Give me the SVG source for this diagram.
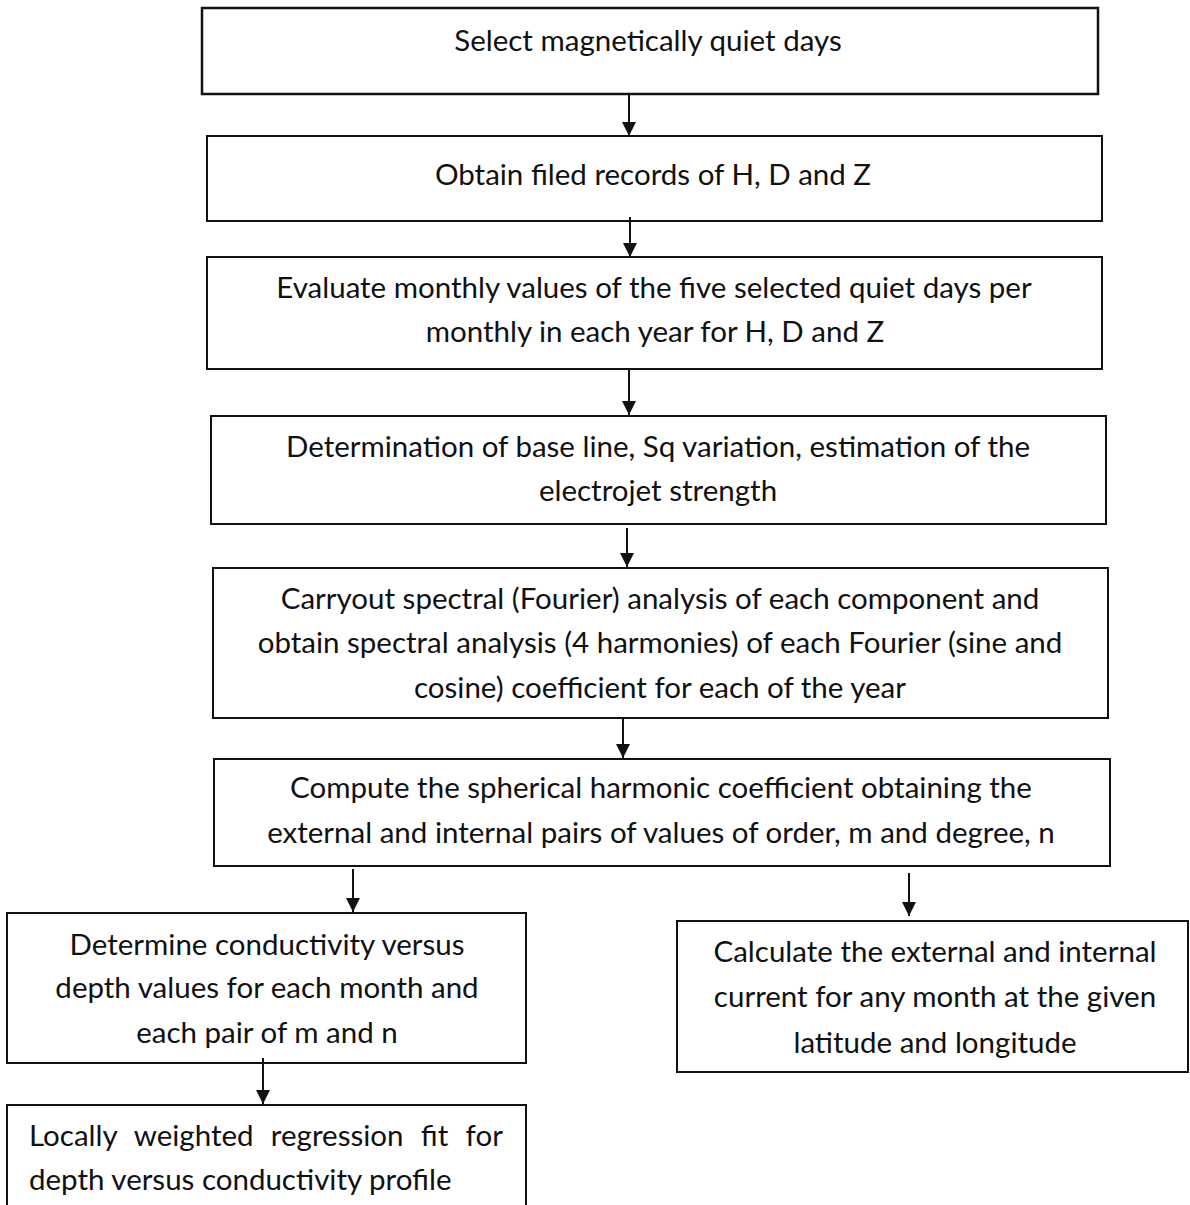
<svg xmlns="http://www.w3.org/2000/svg" width="1190" height="1205" viewBox="0 0 1190 1205">
<style>
.box{fill:#fff;stroke:#111;stroke-width:2}
.t{font-family:Lato,"Open Sans","Liberation Sans",sans-serif;font-size:29.5px;fill:#111;text-anchor:middle}
.l{text-anchor:start}
.c{stroke:#111;stroke-width:2;fill:none}
</style>
<defs>
<marker id="ah" markerUnits="userSpaceOnUse" markerWidth="16" markerHeight="14" refX="14" refY="7" orient="auto">
<path d="M0,0 L14,7 L0,14 Z" fill="#111"/>
</marker>
</defs>
<rect width="1190" height="1205" fill="#fff"/>
<g id="n1"><rect class="box" x="202" y="8" width="896" height="86" style="stroke-width:2.5"/><text class="t" x="648" y="51">Select magnetically quiet days</text></g>
<g id="n2"><rect class="box" x="207" y="136" width="895" height="85"/><text class="t" x="653" y="185">Obtain filed records of H, D and Z</text></g>
<g id="n3"><rect class="box" x="207" y="257" width="895" height="112"/><text class="t" x="654" y="298">Evaluate monthly values of the five selected quiet days per</text><text class="t" x="655" y="342">monthly in each year for H, D and Z</text></g>
<g id="n4"><rect class="box" x="211" y="416" width="895" height="108"/><text class="t" x="658" y="457">Determination of base line, Sq variation, estimation of the</text><text class="t" x="658" y="501">electrojet strength</text></g>
<g id="n5"><rect class="box" x="213" y="568" width="895" height="150"/><text class="t" x="660" y="609">Carryout spectral (Fourier) analysis of each component and</text><text class="t" x="660" y="653">obtain spectral analysis (4 harmonies) of each Fourier (sine and</text><text class="t" x="660" y="698">cosine) coefficient for each of the year</text></g>
<g id="n6"><rect class="box" x="214" y="759" width="896" height="107"/><text class="t" x="661" y="798">Compute the spherical harmonic coefficient obtaining the</text><text class="t" x="661" y="843">external and internal pairs of values of order, m and degree, n</text></g>
<g id="n7"><rect class="box" x="7" y="913" width="519" height="150"/><text class="t" x="267" y="955">Determine conductivity versus</text><text class="t" x="267" y="998">depth values for each month and</text><text class="t" x="267" y="1043">each pair of m and n</text></g>
<g id="n8"><rect class="box" x="7" y="1105" width="519" height="120"/><text class="t l" x="29" y="1146" word-spacing="9.8">Locally weighted regression fit for</text><text class="t l" x="29" y="1190">depth versus conductivity profile</text></g>
<g id="n9"><rect class="box" x="677" y="921" width="511" height="151"/><text class="t" x="935" y="962">Calculate the external and internal</text><text class="t" x="935" y="1007">current for any month at the given</text><text class="t" x="935" y="1053">latitude and longitude</text></g>
<g id="connectors">
<line class="c" x1="629" y1="94" x2="629" y2="136" marker-end="url(#ah)"/>
<line class="c" x1="630" y1="217" x2="630" y2="257" marker-end="url(#ah)"/>
<line class="c" x1="629" y1="370" x2="629" y2="415" marker-end="url(#ah)"/>
<line class="c" x1="627" y1="528" x2="627" y2="567" marker-end="url(#ah)"/>
<line class="c" x1="623" y1="718" x2="623" y2="758" marker-end="url(#ah)"/>
<line class="c" x1="353" y1="869" x2="353" y2="912" marker-end="url(#ah)"/>
<line class="c" x1="909" y1="873" x2="909" y2="916" marker-end="url(#ah)"/>
<line class="c" x1="263" y1="1058" x2="263" y2="1104" marker-end="url(#ah)"/>
</g>
</svg>
